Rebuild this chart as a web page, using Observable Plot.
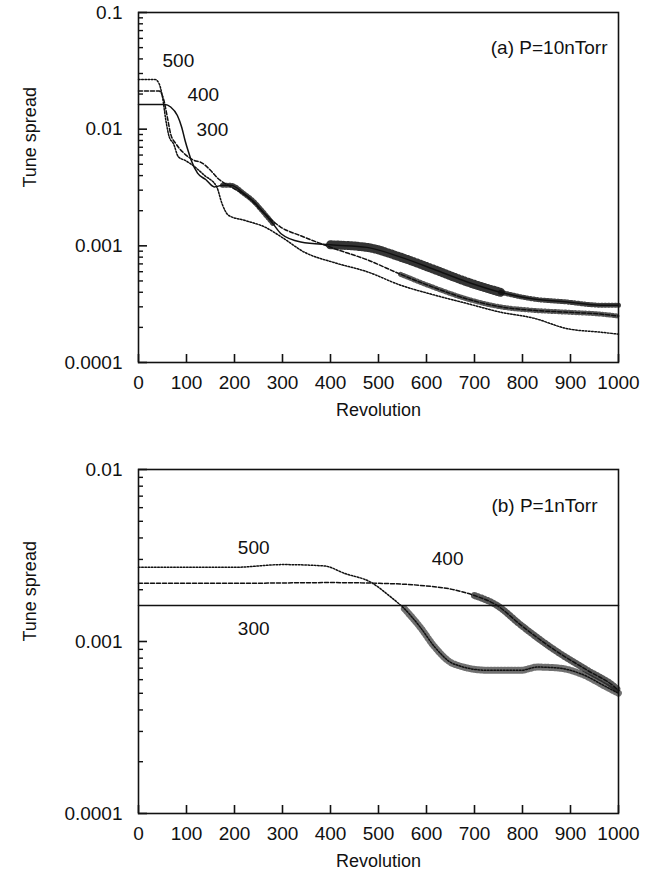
<!DOCTYPE html>
<html><head><meta charset="utf-8">
<script src="https://cdn.jsdelivr.net/npm/d3@7"></script>
<script src="https://cdn.jsdelivr.net/npm/@observablehq/plot@0.6"></script>
<style>
body{margin:0;background:#fff;}
#chart{width:659px;height:880px;background:#fff;}
#chart svg{display:block;}
</style></head><body><div id="chart"></div>
<script>
// ---- tick values / labels ----
const xTicks = [0,100,200,300,400,500,600,700,800,900,1000];
const yTicksTop = [0.0001,0.001,0.01,0.1];
const yLabelsTop = ["0.0001","0.001","0.01","0.1"];
const yTicksBot = [0.0001,0.001,0.01];
const yLabelsBot = ["0.0001","0.001","0.01"];
const seriesNames = ["300","400","500"];

// ---- (a) P=10nTorr ----
const revA300 = [0,55,67,81,90,97,104,110,123,140,158,175,192,220,240,262,280,297,338,400,476,546,615,685,754,823,893,962,1000];
const valA300 = [0.0163,0.0163,0.0155,0.0131,0.0104,0.0080,0.0064,0.0054,0.0042,0.0037,0.0032,0.0033,0.0033,0.0028,0.0024,0.0019,0.00155,0.00127,0.00108,0.00102,0.00097,0.00080,0.00063,0.00049,0.00040,0.00035,0.00033,0.00031,0.00031];
const revA400 = [0,43,53,60,67,78,95,116,130,151,165,193,228,262,296,338,407,476,546,615,685,754,823,893,962,1000];
const valA400 = [0.0212,0.0212,0.0176,0.0127,0.0091,0.0075,0.0062,0.0054,0.0052,0.0044,0.0038,0.0032,0.0026,0.0019,0.00145,0.00122,0.00095,0.00076,0.00057,0.00044,0.00035,0.00030,0.00028,0.00027,0.00026,0.00025];
const revA500 = [0,34,43,50,57,64,73,83,97,110,138,163,174,188,222,263,298,346,407,476,546,615,685,754,823,893,962,1000];
const valA500 = [0.0267,0.0267,0.0245,0.0188,0.0119,0.0086,0.0075,0.0058,0.0054,0.0050,0.0040,0.0032,0.0023,0.00182,0.00165,0.00145,0.00119,0.00088,0.00072,0.00060,0.00046,0.00038,0.00032,0.00027,0.00024,0.000195,0.000182,0.000175];

// ---- (b) P=1nTorr ----
const revB300 = [0,250,500,750,1000];
const valB300 = [0.00162,0.00162,0.00162,0.00162,0.00162];
const revB400 = [0,200,400,500,587,657,700,747,796,865,935,990,1000];
const valB400 = [0.00218,0.00218,0.0022,0.00218,0.00212,0.0020,0.00185,0.00162,0.00125,0.00090,0.00068,0.00055,0.00052];
const revB500 = [0,200,300,387,429,484,526,554,587,617,657,727,796,831,877,921,977,1000];
const valB500 = [0.0027,0.0027,0.0028,0.00275,0.00249,0.00221,0.00181,0.00155,0.00121,0.00093,0.00074,0.00068,0.00068,0.00071,0.00070,0.00065,0.00054,0.00050];

const zip = (r, v, s) => r.map((x, i) => ({rev: x, v: v[i], s}));
const topData = [zip(revA300,valA300,"300"), zip(revA400,valA400,"400"), zip(revA500,valA500,"500")];
const botData = [zip(revB300,valB300,"300"), zip(revB400,valB400,"400"), zip(revB500,valB500,"500")];

const ink = "#111";
const dash = {"300": null, "400": "4,2", "500": "1.6,1.6"};
const minorOf = (ticks) => ticks.slice(0, -1).flatMap(t => [2,3,4,5,6,7,8,9].map(k => k * t));

function panel({height, marginTop, marginBottom, yTicks, yLabels, data, hatch, seriesLabels, title, titleDx, titleDy}) {
  const lab = new Map(yTicks.map((t, i) => [t, yLabels[i]]));
  const frameH = height - marginTop - marginBottom;
  const frameW = 659 - 138 - 41;
  const marks = [
    Plot.frame({stroke: ink, strokeWidth: 1.6}),
    Plot.tickX(xTicks, {x: d => d, insetTop: frameH - 8, stroke: ink, strokeWidth: 1.6}),
    Plot.tickY(yTicks, {y: d => d, insetRight: frameW - 9, stroke: ink, strokeWidth: 1.6}),
    Plot.tickY(minorOf(yTicks), {y: d => d, insetRight: frameW - 5, stroke: ink, strokeWidth: 1.4}),
    Plot.axisX(xTicks, {tickSize: 0, tickPadding: 13, tickFormat: d => String(d), label: null}),
    Plot.axisY(yTicks, {tickSize: 0, tickPadding: 16, tickFormat: d => lab.get(d), label: null}),
  ];
  data.forEach(series => {
    const s = series[0].s;
    marks.push(Plot.line(series, {x: "rev", y: "v", stroke: ink, strokeWidth: 1.5, strokeDasharray: dash[s], curve: "monotone-x"}));
  });
  hatch.forEach(([s, lo, hi, w, op]) => {
    const series = data.find(d => d[0].s === s);
    marks.push(Plot.line(series.filter(d => d.rev >= lo && d.rev <= hi), {x: "rev", y: "v", stroke: ink, strokeWidth: w, strokeDasharray: "1,2.4", strokeOpacity: op, curve: "monotone-x"}));
  });
  seriesLabels.forEach(([t, x, y]) => marks.push(Plot.text([t], {x: () => x, y: () => y, text: d => d, fill: ink, fontSize: 19})));
  marks.push(Plot.text([title], {frameAnchor: "top-right", dx: titleDx, dy: titleDy, textAnchor: "end", lineAnchor: "middle", fill: ink, fontSize: 19}));
  marks.push(Plot.text(["Revolution"], {frameAnchor: "bottom", dy: 48, lineAnchor: "middle", fill: ink, fontSize: 18}));
  marks.push(Plot.text(["Tune spread"], {frameAnchor: "left", dx: -108, rotate: -90, lineAnchor: "middle", fill: ink, fontSize: 18}));
  return Plot.plot({
    width: 659, height, marginLeft: 138, marginRight: 41, marginTop, marginBottom,
    x: {domain: [0, 1000]},
    y: {type: "log", domain: [yTicks[0], yTicks[yTicks.length - 1]]},
    style: {fontFamily: "'Liberation Sans', Arial, Helvetica, sans-serif", fontSize: "19px", color: ink, background: "#fff"},
    marks
  });
}

const chart = document.getElementById("chart");
chart.append(panel({
  height: 425, marginTop: 12, marginBottom: 63,
  yTicks: yTicksTop, yLabels: yLabelsTop, data: topData,
  hatch: [["300", 160, 280, 5, 0.8], ["300", 380, 800, 9, 0.85], ["300", 754, 1000, 5, 0.8], ["400", 500, 1000, 5, 0.7]],
  seriesLabels: [["500", 83, 0.0388], ["400", 135, 0.0195], ["300", 154, 0.0099]],
  title: "(a) P=10nTorr", titleDx: -11, titleDy: 35
}));
chart.append(panel({
  height: 455, marginTop: 44, marginBottom: 67,
  yTicks: yTicksBot, yLabels: yLabelsBot, data: botData,
  hatch: [["500", 550, 1000, 7, 0.6], ["400", 700, 1000, 7, 0.7]],
  seriesLabels: [["500", 240, 0.00348], ["300", 240, 0.00119], ["400", 644, 0.00304]],
  title: "(b) P=1nTorr", titleDx: -21, titleDy: 36
}));
</script></body></html>
